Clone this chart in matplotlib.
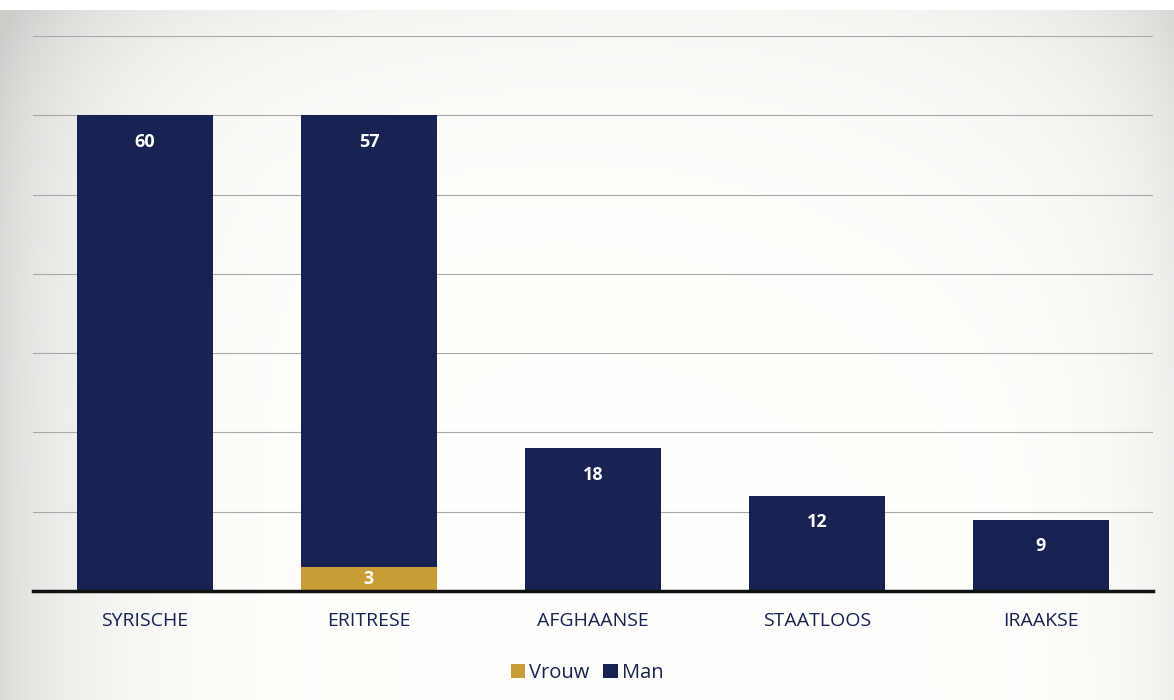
import numpy as np
import matplotlib.pyplot as plt
from matplotlib.patches import Patch

# Nationaliteit en geslacht
categories = ['SYRISCHE', 'ERITRESE', 'AFGHAANSE', 'STAATLOOS', 'IRAAKSE']
vrouw = [0, 3, 0, 0, 0]
man = [60, 57, 18, 12, 9]

navy = '#172252'
gold = '#c99d35'

plt.rcParams['font.family'] = ['Open Sans', 'DejaVu Sans']

fig = plt.figure(figsize=(11.74, 7.0), dpi=100)

# paper background: white in the middle, greyer at the left edge and top corners
bg = fig.add_axes([0, 0, 1, 1], zorder=-1)
h, w = 700, 1174
yy, xx = np.mgrid[0:h, 0:w].astype(float)
shade = 0.14 * np.exp(-xx / 90)
shade += 0.08 * np.exp(-(yy - 10) / 90) * np.exp(-xx / 500)
shade += 0.09 * np.exp(-(yy - 10) / 160) * np.exp(-(w - xx) / 250)
shade += 0.06 * np.exp(-(w - xx) / 60)
v = np.clip(1 - shade, 0.8, 1)
img = np.dstack([v, v, v * 0.99])
img[:10, :, :] = 1.0
bg.imshow(img, aspect='auto', extent=[0, 1, 0, 1])
bg.axis('off')

ax = fig.add_axes([33 / 1174, 1 - 591 / 700, 1120 / 1174, 555 / 700])
ax.set_facecolor('none')

x = np.arange(len(categories))
ax.bar(x, vrouw, width=0.61, color=gold, zorder=3)
ax.bar(x, man, width=0.61, bottom=vrouw, color=navy, zorder=3)

for i in range(len(categories)):
    if vrouw[i] > 0:
        ax.text(x[i], vrouw[i] / 2, str(vrouw[i]), ha='center', va='center',
                color='white', fontsize=13, fontweight='bold', zorder=4)
    ax.annotate(str(man[i]), (x[i], vrouw[i] + man[i]), xytext=(0, -19),
                textcoords='offset points', ha='center', va='center',
                color='white', fontsize=13, fontweight='bold', zorder=4)

ax.set_xlim(-0.5, len(categories) - 0.5)
ax.set_ylim(0, 70)
ax.set_yticks(np.arange(10, 71, 10))
ax.yaxis.grid(True, color='#a8a8a8', linewidth=0.8, zorder=0)
ax.tick_params(axis='y', left=False, labelleft=False)
ax.tick_params(axis='x', length=0, pad=15, labelsize=14, labelcolor=navy)
ax.set_xticks(x)
ax.set_xticklabels(categories)
for s in ['top', 'right', 'left']:
    ax.spines[s].set_visible(False)
ax.spines['bottom'].set_color('#111111')
ax.spines['bottom'].set_linewidth(2.5)
ax.spines['bottom'].set_zorder(5)

handles = [Patch(facecolor=gold), Patch(facecolor=navy)]
leg = fig.legend(handles, ['Vrouw', 'Man'], loc='center', bbox_to_anchor=(0.5, 1 - 673 / 700),
                 ncol=2, frameon=False, fontsize=14.5, handlelength=0.7, handleheight=0.7,
                 handletextpad=0.2, columnspacing=0.7)
for t in leg.get_texts():
    t.set_color(navy)

fig.savefig('out.png', dpi=100)
